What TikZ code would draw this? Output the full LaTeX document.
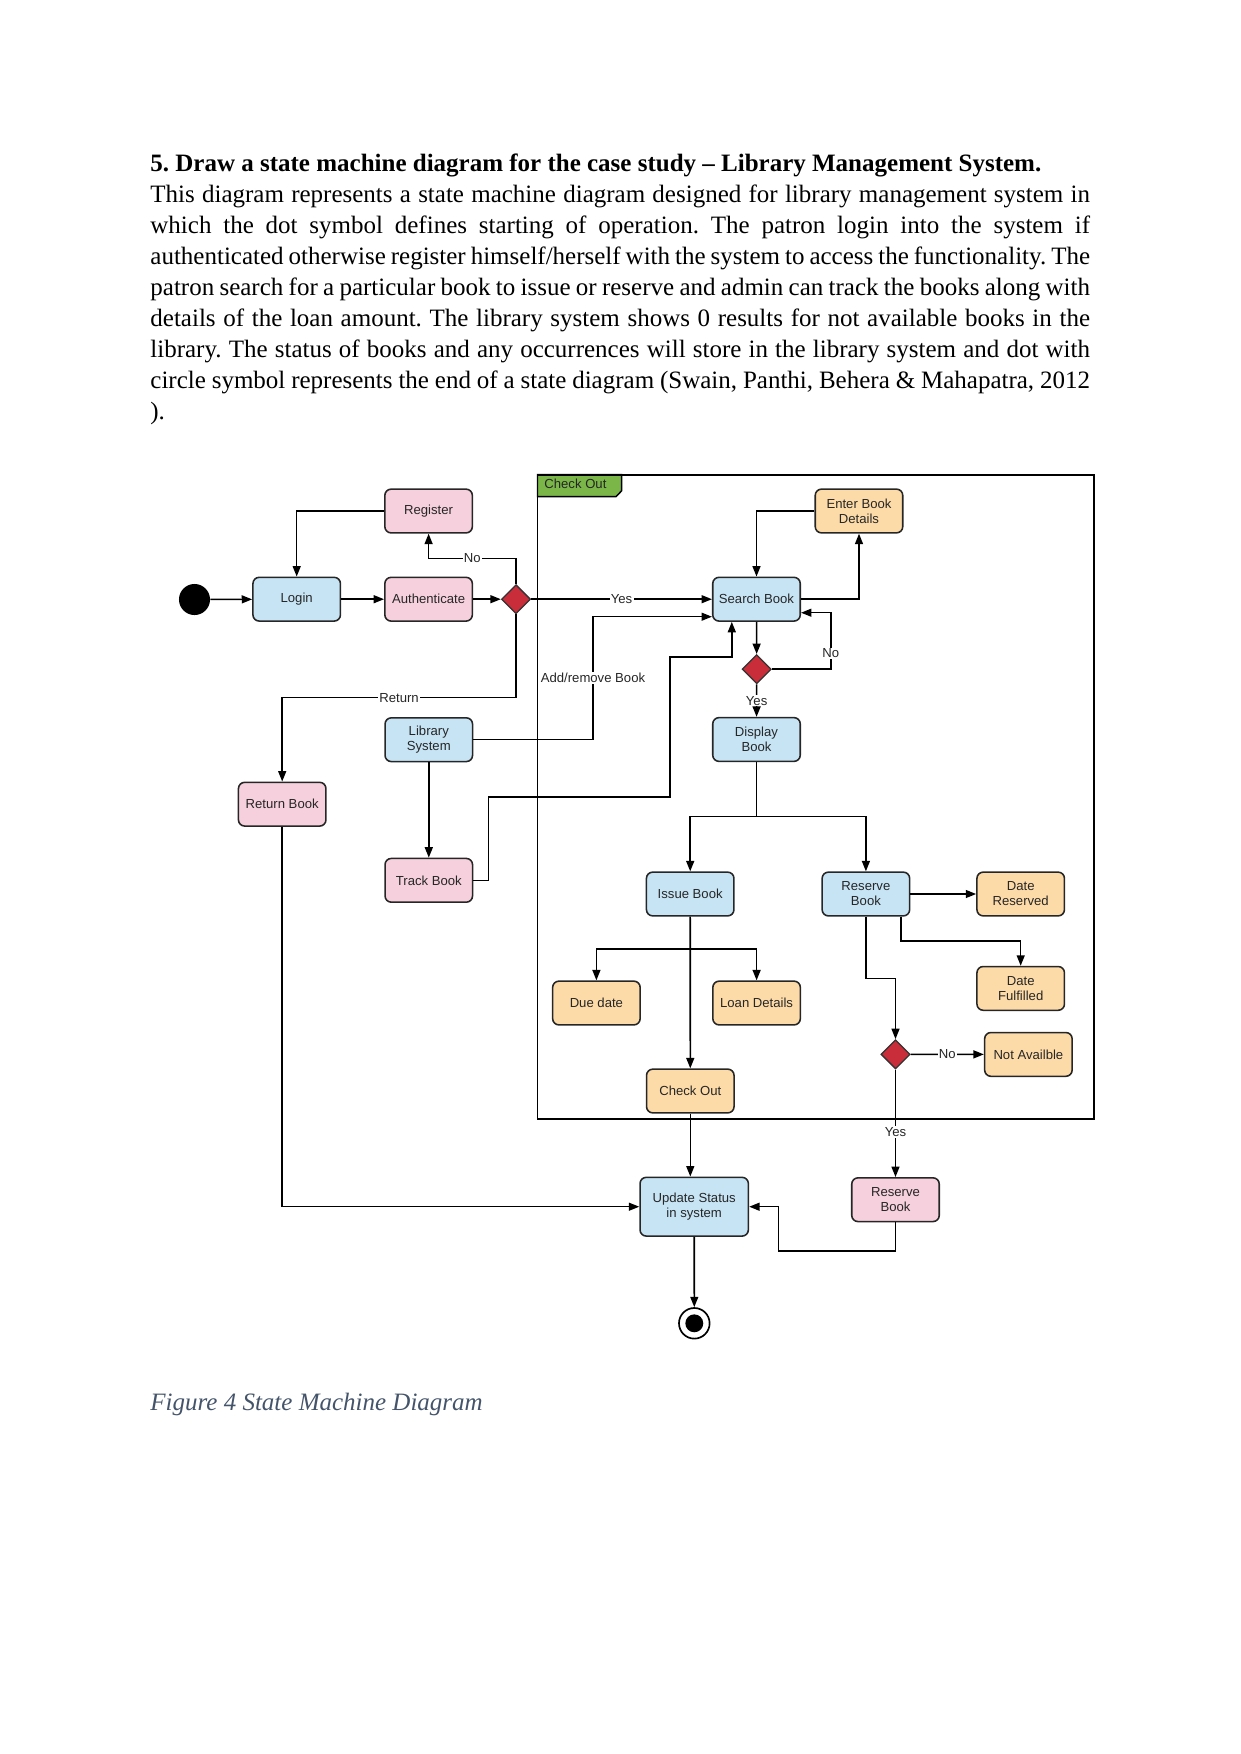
\documentclass[tikz,border=0pt]{standalone}
\usepackage{fontspec}
\setmainfont{Liberation Serif}
\setsansfont{Liberation Sans}
\usetikzlibrary{arrows.meta,shapes.geometric}
\frenchspacing

\definecolor{boxblue}{RGB}{199,228,245}
\definecolor{boxpink}{RGB}{246,208,221}
\definecolor{boxorange}{RGB}{253,219,168}
\definecolor{decred}{RGB}{201,45,57}
\definecolor{tabgreen}{RGB}{122,182,72}
\definecolor{capgray}{RGB}{68,84,106}

\tikzset{
  stbox/.style={draw=black!85, line width=0.75pt, rounded corners=3pt,
    minimum width=42pt, minimum height=21pt, inner sep=1pt, align=center,
    text=black!85, font=\sffamily\fontsize{6.3}{7.2}\selectfont},
  bluestate/.style={stbox, fill=boxblue},
  pinkstate/.style={stbox, fill=boxpink},
  orangestate/.style={stbox, fill=boxorange},
  decision/.style={diamond, draw=black!80, fill=decred, line width=0.6pt,
    minimum size=14pt, inner sep=0pt},
  lbl/.style={fill=white, inner sep=0.6pt, text=black!85,
    font=\sffamily\fontsize{6.3}{7.2}\selectfont},
  arr/.style={-{Triangle[length=5pt,width=3.8pt]}, line width=0.75pt}
}

\begin{document}
\begin{tikzpicture}[x=0.48pt, y=-0.48pt]
  \useasboundingbox (0,0) rectangle (1241,1754);

  % heading and text
  \node[anchor=base west, inner sep=0pt, text width=451pt, align=justify,
    font=\fontsize{12}{14.85}\selectfont] (body) at (150,171.7)
    {\textbf{5. Draw a state machine diagram for the case study – Library Management System.}\\
    This diagram represents a state machine diagram designed for library management system in\linebreak
    which the dot symbol defines starting of operation. The patron login into the system if\linebreak
    authenticated otherwise register himself/herself with the system to access the functionality. The\linebreak
    patron search for a particular book to issue or reserve and admin can track the books along with\linebreak
    details of the loan amount. The library system shows 0 results for not available books in the\linebreak
    library. The status of books and any occurrences will store in the library system and dot with\linebreak
    circle symbol represents the end of a state diagram (Swain, Panthi, Behera \& Mahapatra, 2012\linebreak
    ).};

  % check out frame
  \draw[fill=tabgreen, line width=0.7pt] (537.5,474.7) -- (621.7,474.7) -- (621.7,490.7)
    -- (616,496.7) -- (537.5,496.7) -- cycle;
  \node[anchor=base west, inner sep=0pt, text=black!85,
    font=\sffamily\fontsize{6.3}{7.2}\selectfont] (cotab) at (544,488.5) {Check Out};
  \draw[line width=0.9pt] (537.5,474.7) rectangle (1093.6,1118.6);

  % states
  \node[circle, fill=black, minimum size=14.9pt, inner sep=0pt] (start) at (194.5,599.5) {};
  \node[bluestate] (login) at (296.7,599.2) {Login};
  \node[pinkstate] (auth) at (428.6,599.2) {Authenticate};
  \node[pinkstate] (register) at (428.6,511) {Register};
  \node[decision] (dec1) at (516,599.2) {};

  \node[bluestate] (search) at (756.5,599.2) {Search Book};
  \node[orangestate] (enter) at (859,511) {Enter Book\\Details};
  \node[decision] (dec2) at (756.7,669.2) {};
  \node[bluestate] (display) at (756.5,739.5) {Display\\Book};

  \node[bluestate] (libsys) at (428.8,739.7) {Library\\System};
  \node[pinkstate] (retbook) at (282.2,804.2) {Return Book};
  \node[pinkstate] (track) at (428.8,880.3) {Track Book};

  \node[bluestate] (issue) at (690.2,894) {Issue Book};
  \node[bluestate] (reserve) at (865.9,894) {Reserve\\Book};
  \node[orangestate] (datres) at (1020.7,894) {Date\\Reserved};
  \node[orangestate] (datful) at (1020.7,988.4) {Date\\Fulfilled};
  \node[orangestate] (duedate) at (596.4,1003) {Due date};
  \node[orangestate] (loan) at (756.6,1003) {Loan Details};
  \node[decision] (dec3) at (895.5,1054.3) {};
  \node[orangestate] (notavail) at (1028.4,1054.4) {Not Availble};
  \node[orangestate] (checkout) at (690.3,1091) {Check Out};

  \node[bluestate, minimum width=52pt, minimum height=28.2pt] (update) at (694.2,1206.7) {Update Status\\in system};
  \node[pinkstate] (resbook) at (895.5,1199.7) {Reserve\\Book};
  \node[circle, draw, line width=0.8pt, minimum size=14.7pt, inner sep=0pt] (stop) at (694.3,1323.3) {};
  \fill (stop) circle (4.3pt);

  % bends
  \coordinate (noreg) at (428.6,558.5);
  \coordinate (retbend) at (516,697.7);
  \coordinate (addbend) at (593,616.7);
  \coordinate (t1) at (488.7,797);
  \coordinate (t2) at (670,657);
  \coordinate (t3) at (731.8,621);
  \coordinate (nobend) at (830.8,612.7);
  \coordinate (dsplit) at (756.5,816.7);
  \coordinate (isplit) at (690.2,949);
  \coordinate (fbend) at (901.1,941);
  \coordinate (dbend) at (865.9,978.3);
  \coordinate (rbend) at (778.3,1251);

  % login part
  \draw[arr] (start) -- (login);
  \draw[arr] (login) -- (auth);
  \draw[arr] (auth) -- (dec1);
  \draw[arr] (register) -| (login);
  \draw[arr] (dec1) |- node[lbl, pos=0.75] {No} (noreg) -- (register);
  \draw[arr] (dec1) -- node[lbl] {Yes} (search);
  \draw[arr] (dec1) -- (retbend) -| node[lbl, pos=0.25] {Return} (retbook);

  % admin part
  \draw[arr] (libsys) -| node[lbl, pos=0.75] {Add/remove Book} (addbend) -- (addbend -| search.west);
  \draw[arr] (libsys) -- (track);
  \draw[arr] (track) -| (t1) -| (t2) -| (t3 |- search.south);

  % search
  \draw[arr] (enter) -| (search);
  \draw[arr] (search) -| (enter);
  \draw[arr] (search) -- (dec2);
  \draw[arr] (dec2) -| node[lbl, pos=0.64] {No} (nobend) -- (nobend -| search.east);
  \draw[arr] (dec2) -- node[lbl] {Yes} (display);

  % issue and reserve
  \draw[line width=0.75pt] (display) -- (dsplit);
  \draw[arr] (dsplit) -| (issue);
  \draw[arr] (dsplit) -| (reserve);
  \draw[arr] (issue) -- (checkout);
  \draw[arr] (isplit) -| (duedate);
  \draw[arr] (isplit) -| (loan);
  \draw[arr] (reserve) -- (datres);
  \draw[arr] (fbend |- reserve.south) -- (fbend) -| (datful);
  \draw[arr] (reserve) -- (dbend) -| (dec3);
  \draw[arr] (dec3) -- node[lbl] {No} (notavail);
  \draw[arr] (dec3) -- node[lbl, pos=0.58] {Yes} (resbook);

  % update and end
  \draw[arr] (checkout) -- (checkout |- update.north);
  \draw[arr] (retbook) |- (update);
  \draw[arr] (resbook) |- (rbend) |- (update);
  \draw[arr] (update) -- (stop);

  % caption
  \node[anchor=base west, inner sep=0pt, text=capgray,
    font=\itshape\fontsize{12}{14}\selectfont] (cap) at (150,1410) {Figure 4 State Machine Diagram};
\end{tikzpicture}
\end{document}
